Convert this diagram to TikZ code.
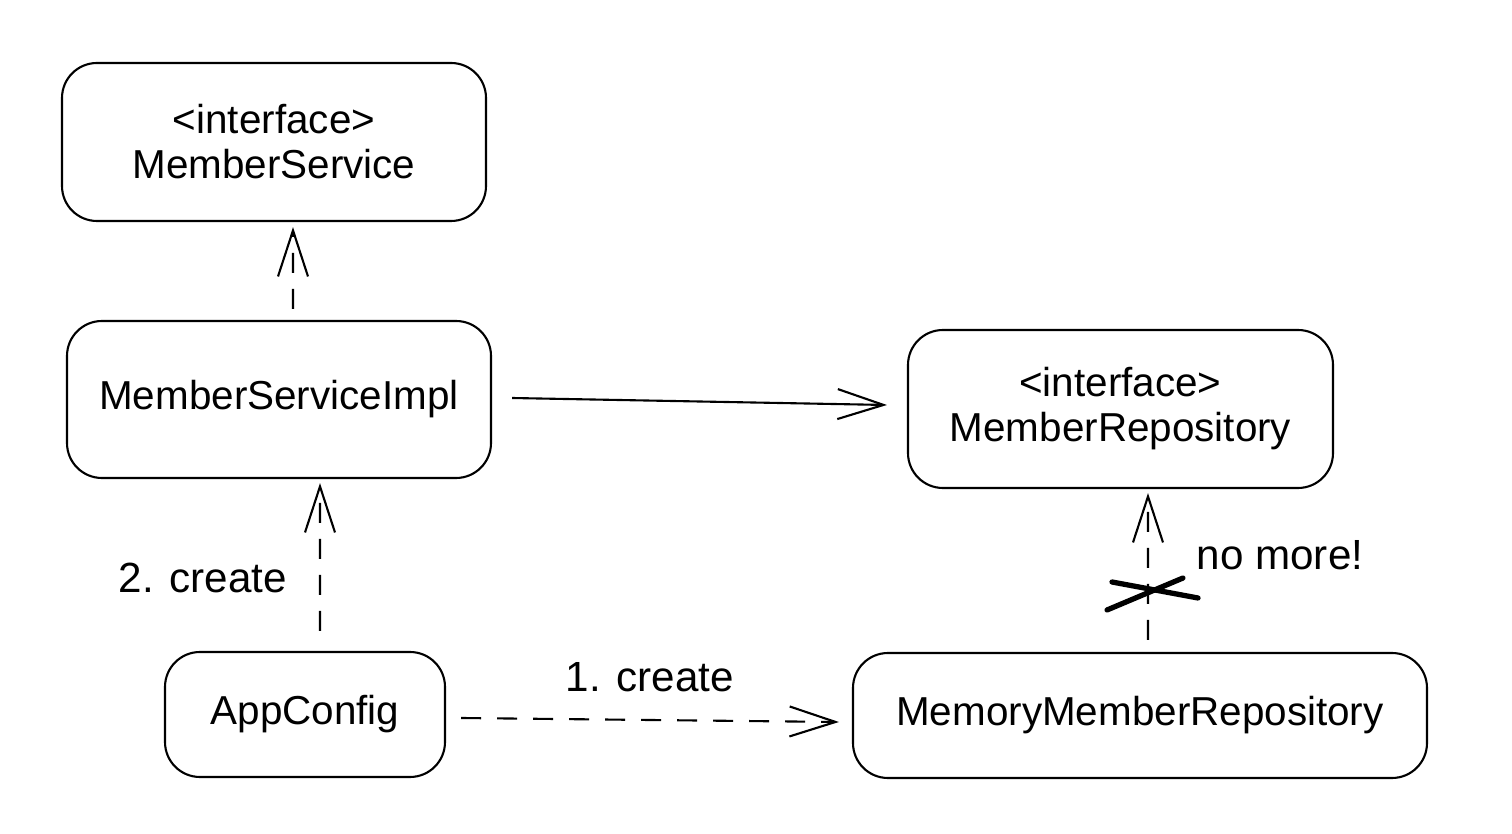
\documentclass[tikz,border=0pt]{standalone}
\usepackage{fontspec}
\setmainfont{Liberation Sans}
\usetikzlibrary{arrows.meta}
\begin{document}
\begin{tikzpicture}[
        line width=0.6pt,
        classbox/.style={draw,rounded corners=3.5mm,align=center,font=\fontsize{11.5}{12.8}\selectfont},
        realize/.style={dashed,dash pattern=on 2mm off 1.6mm,-{Straight Barb[length=4.6mm,width=3mm]}},
        uses/.style={-{Straight Barb[length=4.6mm,width=3mm]}},
        note/.style={font=\fontsize{12}{13}\selectfont}
    ]
        \useasboundingbox[fill=white] (0,0) rectangle (15.12,8.34);
        \node[classbox,minimum width=4.24cm,minimum height=1.58cm] (ms) at (2.74,6.92) {\textless interface\textgreater\\MemberService};
        \node[classbox,minimum width=4.24cm,minimum height=1.57cm] (msi) at (2.79,4.345) {MemberServiceImpl};
        \node[classbox,minimum width=4.25cm,minimum height=1.58cm] (mr) at (11.205,4.25) {\textless interface\textgreater\\MemberRepository};
        \node[classbox,minimum width=2.80cm,minimum height=1.25cm] (app) at (3.05,1.195) {AppConfig};
        \node[classbox,minimum width=5.74cm,minimum height=1.25cm] (mmr) at (11.40,1.185) {MemoryMemberRepository};
        \draw[realize] ([xshift=1.4mm,yshift=1.1mm]msi.north) -- ([xshift=1.9mm,yshift=-0.5mm]ms.south);
        \draw[realize] ([xshift=1.5mm,yshift=2mm]app.north) -- ([xshift=4.1mm,yshift=-0.4mm]msi.south);
        \draw[uses] ([xshift=2mm,yshift=0.15mm]msi.east) -- ([xshift=-2mm,yshift=0.4mm]mr.west);
        \draw[realize] ([xshift=1.5mm,yshift=-0.35mm]app.east) -- node[note,above=1.5mm] (c1) {1. create} ([xshift=-1.3mm,yshift=-0.65mm]mmr.west);
        \draw[realize] ([xshift=0.8mm,yshift=1.2mm]mmr.north) -- ([xshift=2.75mm,yshift=-0.4mm]mr.south);
        \node[note] (c2) at (2.03,2.56) {2. create};
        \node[note] (nm) at (12.80,2.79) {no more!};
        % cross on the dropped dependency
        \draw[line width=1.5pt,line cap=round] (11.07,2.24) -- (11.83,2.56);
        \draw[line width=1.5pt,line cap=round] (11.12,2.52) -- (11.98,2.36);
\end{tikzpicture}
\end{document}
